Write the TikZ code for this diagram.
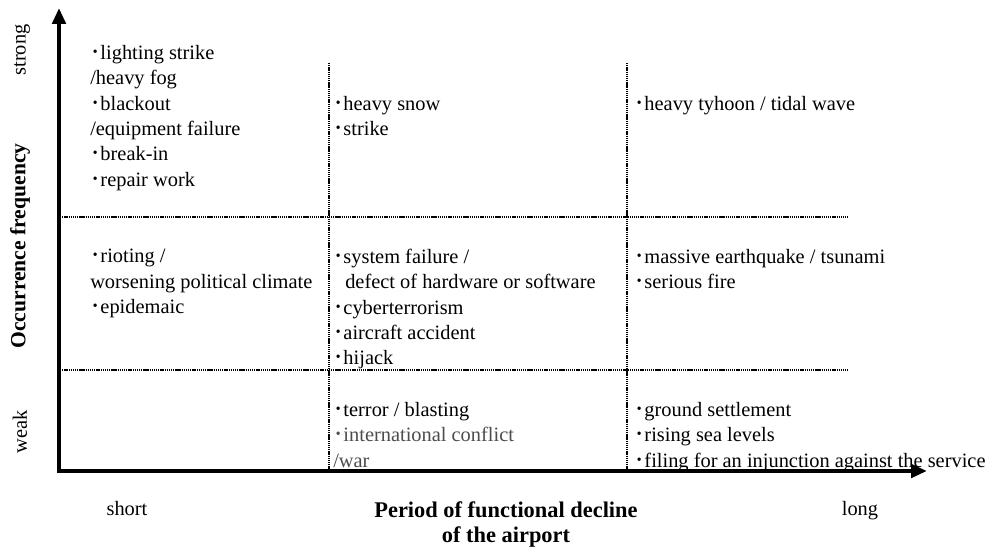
\documentclass[tikz,border=0pt]{standalone}
\usepackage{fontspec}
\setmainfont{Liberation Serif}
\newfontfamily\cjkfont{Noto Sans CJK JP}
\newcommand\bu{{\cjkfont ･}}
\usetikzlibrary{arrows.meta}
\begin{document}
\begin{tikzpicture}[x=0.75pt,y=-0.75pt,
  axis/.style={line width=3pt,{Triangle[length=12pt,width=10pt]}-{Triangle[length=12pt,width=10pt]}},
  grid/.style={line width=1pt,dash pattern=on 1pt off 0.6pt},
  cell/.style={anchor=north west,inner sep=0pt,align=left,font=\fontsize{15.3pt}{19pt}\selectfont},
  lab/.style={inner sep=0pt,font=\fontsize{15.3pt}{19pt}\selectfont},
  blab/.style={inner sep=0pt,align=center,font=\fontsize{16.8pt}{19pt}\selectfont\bfseries},
  greytext/.style={text=black!65}]
\useasboundingbox (0,0) rectangle (989,548);
% grid
\coordinate (v1t) at (329,63); \coordinate (v1b) at (329,471);
\coordinate (v2t) at (627,63); \coordinate (v2b) at (627,471);
\coordinate (h1l) at (60,217); \coordinate (h1r) at (848,217);
\coordinate (h2l) at (60,370); \coordinate (h2r) at (848,370);
\draw[grid] (v1t) -- (v1b);
\draw[grid] (v2t) -- (v2b);
\draw[grid] (h1l) -- (h1r);
\draw[grid] (h2l) -- (h2r);
% axes
\coordinate (ytip) at (59,8);
\coordinate (xtip) at (927,471);
\draw[axis] (ytip) |- (xtip);
% cells
\node[cell] (c11) at (90,45) {\bu lighting strike\\/heavy fog\\\bu blackout\\/equipment failure\\\bu break-in\\\bu repair work};
\node[cell] (c12) at (333,96) {\bu heavy snow\\\bu strike};
\node[cell] (c13) at (634,96) {\bu heavy tyhoon / tidal wave};
\node[cell] (c21) at (90,249) {\bu rioting /\\worsening political climate\\\bu epidemaic};
\node[cell] (c22) at (333,249) {\bu system failure /\\\hspace*{9pt}defect of hardware or software\\\bu cyberterrorism\\\bu aircraft accident\\\bu hijack};
\node[cell] (c23) at (634,249) {\bu massive earthquake / tsunami\\\bu serious fire};
\node[cell] (c32) at (333,402) {\bu terror / blasting\\{\color{black!70}\bu international conflict}\\{\color{black!70}/war}};
\node[cell] (c33) at (634,402) {\bu ground settlement\\\bu rising sea levels\\\bu filing for an injunction against the service};
% axis labels
\node[lab,anchor=base] (short) at (127,516) {short};
\node[lab,anchor=base] (long) at (860,516) {long};
\node[blab,anchor=base] (xlab) at (506,518) {Period of functional decline};
\node[blab,anchor=base] (xlab2) at (506,543) {of the airport};
\node[lab,rotate=90] (strong) at (22,50) {strong};
\node[lab,rotate=90] (weak) at (20,432) {weak};
\node[blab,rotate=90,font=\fontsize{16.2pt}{19pt}\selectfont\bfseries] (ylab) at (20,246) {Occurrence frequency};
\end{tikzpicture}
\end{document}
